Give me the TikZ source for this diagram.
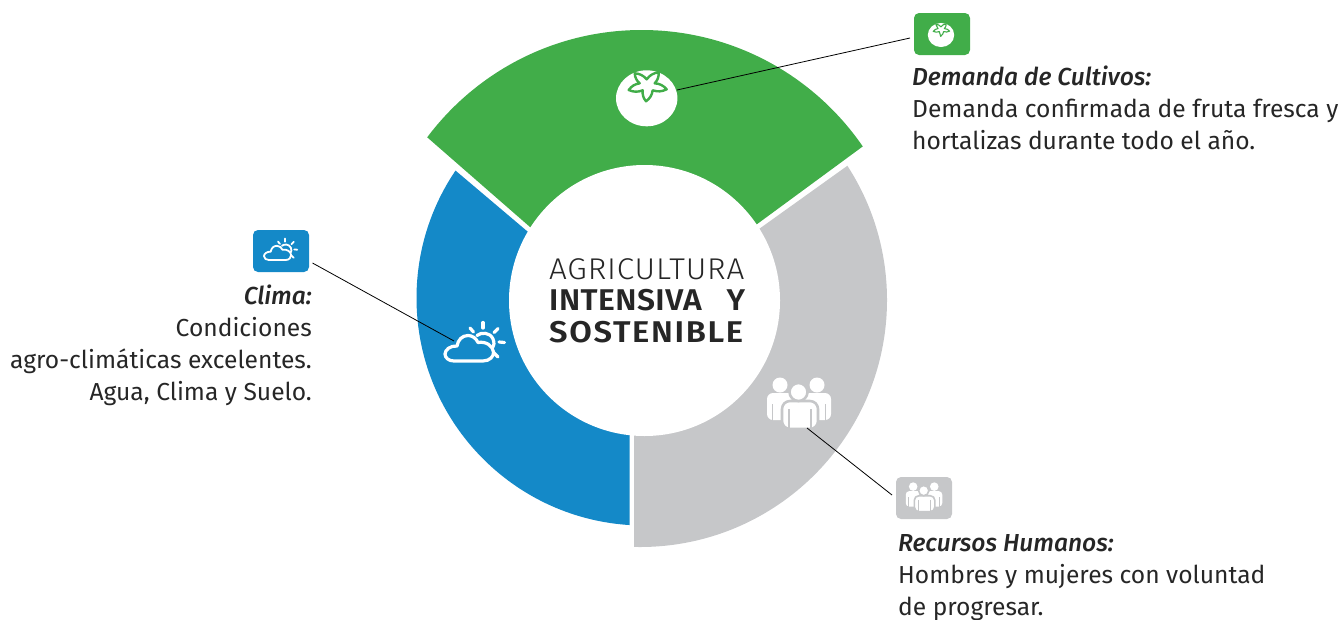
\documentclass[tikz,border=0pt]{standalone}
\usepackage{fontspec}
\setmainfont{Fira Sans}
\newfontfamily\lightf[LetterSpace=2.7,FakeStretch=1.05]{Fira Sans Light}
\newfontfamily\semia[LetterSpace=1.5,FakeStretch=1.06]{Fira Sans SemiBold}
\newfontfamily\semib[LetterSpace=5.5,FakeStretch=1.09]{Fira Sans SemiBold}
\newfontfamily\medit{Fira Sans Medium Italic}
\definecolor{cgreen}{HTML}{41AD49}
\definecolor{cblue}{HTML}{1489C8}
\definecolor{cgray}{HTML}{C6C7C9}
\newcommand{\tomatoicon}[5]{% x y scale bg lw
  \begin{scope}[shift={(#1,#2)},scale=#3]
    \fill[white] (0,0) ellipse [x radius=30.7,y radius=28];
    \draw[#4,fill=white,line width=#5,line join=round]
      (-18,-8.3) to[bend left=22] (-7,-15) to[bend left=22] (-12,-25)
      to[bend left=22] (0,-19) to[bend left=22] (12,-26)
      to[bend left=22] (8,-15) to[bend left=22] (20,-9)
      to[bend left=22] (6,-8) to[bend left=22] (-0.7,3)
      to[bend left=22] (-4,-8) to[bend left=22] cycle;
  \end{scope}}
\newcommand{\cloudicon}[4]{% x y scale lw
  \begin{scope}[shift={(#1,#2)},scale=#3,shift={(-474.5,-343)},white,line width=#4,line cap=round,line join=round]
    \draw (454,361) -- (483,361) .. controls (490,361) and (494,356) .. (493.5,352)
      .. controls (493,346) and (486,341) .. (478,342.5)
      .. controls (476,338) and (472,335.5) .. (468,335.5)
      .. controls (462,335.5) and (458,340) .. (457,346)
      .. controls (450,345.5) and (445,350) .. (445,354)
      .. controls (445,358) and (449,361) .. (454,361) -- cycle;
    \draw (477,335.5) .. controls (481,332) and (490,332) .. (493,339) .. controls (494.5,343) and (494,345) .. (493,347);
    \draw (483,322.5) -- (483,328);
    \draw (470,328) -- (473.5,332);
    \draw (498,328.5) -- (494,332.5);
    \draw (499,342) -- (504.5,342.5);
    \draw (494,353) -- (498,357);
  \end{scope}}
\newcommand{\peopleicon}[5]{% x y scale bg lw
  \begin{scope}[shift={(#1,#2)},scale=#3,shift={(-799,-405)}]
    \fill[white] (780,385) circle[radius=7.5];
    \fill[white] (817,385) circle[radius=7.5];
    \fill[white,rounded corners=6*#3] (767,420) -- (767,393) -- (794,393) -- (794,420) -- cycle;
    \fill[white,rounded corners=6*#3] (804,420) -- (804,393) -- (831,393) -- (831,420) -- cycle;
    \draw[#4,line width=#5] (772.5,404) -- (772.5,421);
    \draw[#4,line width=#5] (825.5,404) -- (825.5,421);
    \draw[#4,fill=white,line width=1.6*#5,rounded corners=8*#3] (782,429) -- (782,401) -- (818,401) -- (818,429) -- cycle;
    \draw[#4,fill=white,line width=1.6*#5] (798.5,392) circle[radius=9];
    \draw[#4,line width=#5] (789,409) -- (789,429);
    \draw[#4,line width=#5] (811,409) -- (811,429);
  \end{scope}}
\tikzset{
  tile/.style={rounded corners=5pt,minimum width=56pt,minimum height=42pt,inner sep=0pt},
  leader/.style={black,line width=0.8pt},
  body/.style={inner sep=0pt,text=black!85,font=\fontsize{24.6}{32}\selectfont},
  centre/.style={inner sep=0pt,text=black!85,font=\fontsize{30}{32}\selectfont,anchor=base west}
}
\begin{document}
\begin{tikzpicture}[x=1pt,y=-1pt]
\useasboundingbox (0,0) rectangle (1341,619);
% ring segments
\begin{scope}
  \clip (632,316) -- (224,-40) -- (1092,-22) -- cycle;
  \fill[cgreen] (641.7,298) circle[radius=268];
\end{scope}
\begin{scope}
  \clip (629.5,317.8) -- (629.5,600) -- (300,600) -- (300,39) -- cycle;
  \fill[cblue] (644,298) circle[radius=227.5];
\end{scope}
\begin{scope}
  \clip (634,318.5) -- (634,600) -- (1000,600) -- (1000,56.5) -- cycle;
  \fill[cgray] (640,300) circle[radius=247];
\end{scope}
\node[circle,fill=white,minimum size=271pt,inner sep=0pt] (hub) at (644.5,300.5) {};
% centre title
\node[centre] (t1) at (549,279.5) {\lightf AGRICULTURA};
\node[centre] (t2) at (549,310.5) {\semia\makebox[196pt][s]{INTENSIVA\hfill Y}};
\node[centre] (t3) at (549,342.5) {\semib SOSTENIBLE};
% big icons
\tomatoicon{646.7}{98.3}{1}{cgreen}{2.4pt}
\cloudicon{474.5}{343}{1}{3.2pt}
\peopleicon{799}{405}{1}{cgray}{1.6pt}
% tiles
\node[tile,fill=cgreen] (tileA) at (942,34) {};
\node[tile,fill=cblue] (tileB) at (281,251) {};
\node[tile,fill=cgray] (tileC) at (924,498) {};
\tomatoicon{941}{35}{0.43}{cgreen}{1.1pt}
\cloudicon{280.5}{250}{0.56}{1.8pt}
\peopleicon{924}{498}{0.57}{cgray}{1pt}
% leader ends
\coordinate (la) at (677,90);
\coordinate (lb) at (910,38);
\coordinate (lc) at (454,341);
\coordinate (ld) at (312.5,263);
\coordinate (le) at (807,428);
\coordinate (lf) at (892,495);
\draw[leader] (la) -- (lb);
\draw[leader] (lc) -- (ld);
\draw[leader] (le) -- (lf);
% texts
\node[body,anchor=north west,align=left] (txA) at (912,66) {{\medit Demanda de Cultivos:}\\Demanda confirmada de fruta fresca y\\hortalizas durante todo el año.};
\node[body,anchor=north east,align=right] (txB) at (312,285) {{\medit Clima:}\\Condiciones\\agro-climáticas excelentes.\\Agua, Clima y Suelo.};
\node[body,anchor=north west,align=left] (txC) at (898,534.5) {{\medit Recursos Humanos:}\\Hombres y mujeres con voluntad\\de progresar.};
\end{tikzpicture}
\end{document}
